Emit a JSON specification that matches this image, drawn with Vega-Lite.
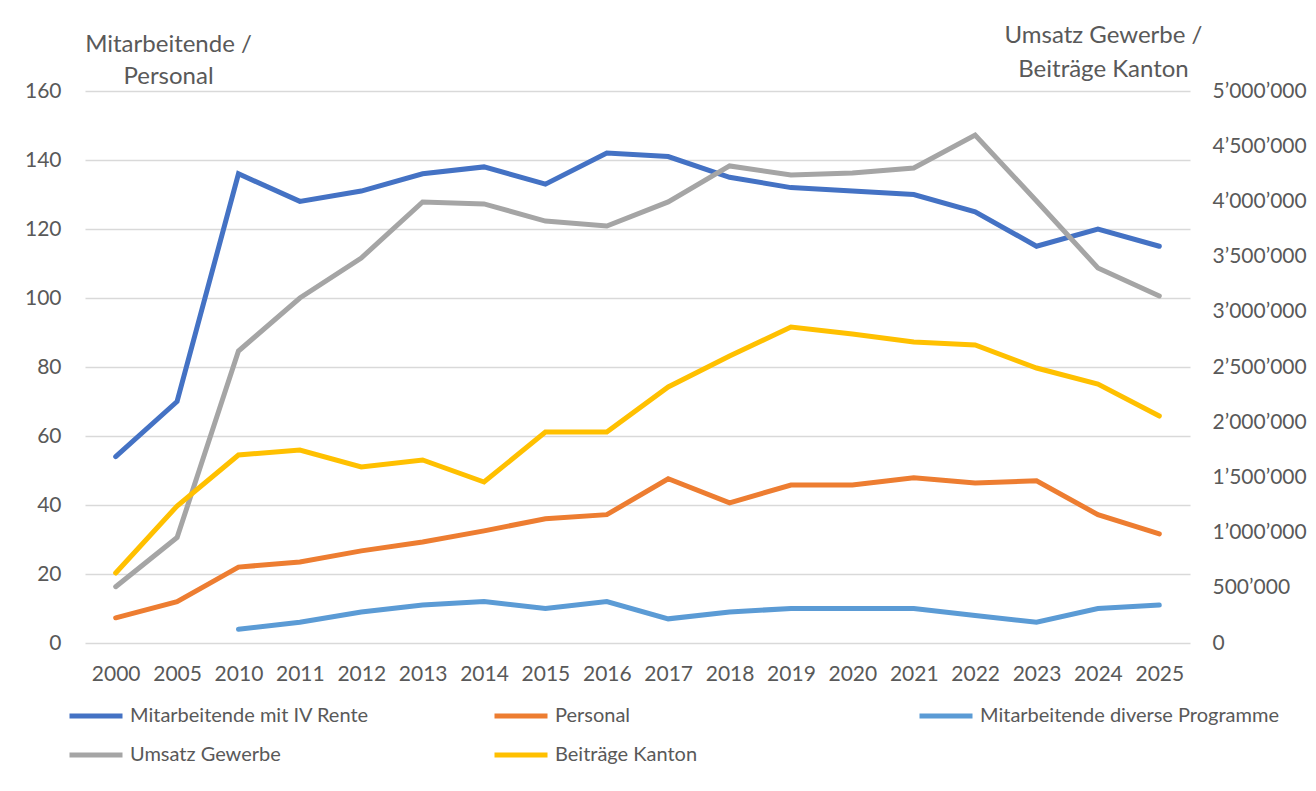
{
  "$schema": "https://vega.github.io/schema/vega-lite/v6.json",
  "width": 1105,
  "height": 552,
  "autosize": {"type": "none"},
  "padding": {"left": 85, "top": 91, "right": 126, "bottom": 148},
  "background": "white",
  "config": {
    "view": {"stroke": null},
    "font": "Lato",
    "axis": {"labelFont": "Lato", "labelFontSize": 21, "labelColor": "#595959", "titleFont": "Lato", "titleFontSize": 24, "titleColor": "#595959", "titleFontWeight": "normal", "ticks": false, "domain": false},
    "legend": {"labelFont": "Lato", "labelFontSize": 20, "labelColor": "#595959"}
  },
  "data": {
    "values": [
      {"year": "2000", "series": "Mitarbeitende mit IV Rente", "axis": "L", "value": 54},
      {"year": "2005", "series": "Mitarbeitende mit IV Rente", "axis": "L", "value": 70},
      {"year": "2010", "series": "Mitarbeitende mit IV Rente", "axis": "L", "value": 136},
      {"year": "2011", "series": "Mitarbeitende mit IV Rente", "axis": "L", "value": 128},
      {"year": "2012", "series": "Mitarbeitende mit IV Rente", "axis": "L", "value": 131},
      {"year": "2013", "series": "Mitarbeitende mit IV Rente", "axis": "L", "value": 136},
      {"year": "2014", "series": "Mitarbeitende mit IV Rente", "axis": "L", "value": 138},
      {"year": "2015", "series": "Mitarbeitende mit IV Rente", "axis": "L", "value": 133},
      {"year": "2016", "series": "Mitarbeitende mit IV Rente", "axis": "L", "value": 142},
      {"year": "2017", "series": "Mitarbeitende mit IV Rente", "axis": "L", "value": 141},
      {"year": "2018", "series": "Mitarbeitende mit IV Rente", "axis": "L", "value": 135},
      {"year": "2019", "series": "Mitarbeitende mit IV Rente", "axis": "L", "value": 132},
      {"year": "2020", "series": "Mitarbeitende mit IV Rente", "axis": "L", "value": 131},
      {"year": "2021", "series": "Mitarbeitende mit IV Rente", "axis": "L", "value": 130},
      {"year": "2022", "series": "Mitarbeitende mit IV Rente", "axis": "L", "value": 125},
      {"year": "2023", "series": "Mitarbeitende mit IV Rente", "axis": "L", "value": 115},
      {"year": "2024", "series": "Mitarbeitende mit IV Rente", "axis": "L", "value": 120},
      {"year": "2025", "series": "Mitarbeitende mit IV Rente", "axis": "L", "value": 115},
      {"year": "2000", "series": "Personal", "axis": "L", "value": 7.3},
      {"year": "2005", "series": "Personal", "axis": "L", "value": 12},
      {"year": "2010", "series": "Personal", "axis": "L", "value": 22},
      {"year": "2011", "series": "Personal", "axis": "L", "value": 23.5},
      {"year": "2012", "series": "Personal", "axis": "L", "value": 26.7},
      {"year": "2013", "series": "Personal", "axis": "L", "value": 29.3},
      {"year": "2014", "series": "Personal", "axis": "L", "value": 32.5},
      {"year": "2015", "series": "Personal", "axis": "L", "value": 36},
      {"year": "2016", "series": "Personal", "axis": "L", "value": 37.2},
      {"year": "2017", "series": "Personal", "axis": "L", "value": 47.6},
      {"year": "2018", "series": "Personal", "axis": "L", "value": 40.6},
      {"year": "2019", "series": "Personal", "axis": "L", "value": 45.8},
      {"year": "2020", "series": "Personal", "axis": "L", "value": 45.8},
      {"year": "2021", "series": "Personal", "axis": "L", "value": 47.9},
      {"year": "2022", "series": "Personal", "axis": "L", "value": 46.4},
      {"year": "2023", "series": "Personal", "axis": "L", "value": 47},
      {"year": "2024", "series": "Personal", "axis": "L", "value": 37.2},
      {"year": "2025", "series": "Personal", "axis": "L", "value": 31.6},
      {"year": "2010", "series": "Mitarbeitende diverse Programme", "axis": "L", "value": 4},
      {"year": "2011", "series": "Mitarbeitende diverse Programme", "axis": "L", "value": 6},
      {"year": "2012", "series": "Mitarbeitende diverse Programme", "axis": "L", "value": 9},
      {"year": "2013", "series": "Mitarbeitende diverse Programme", "axis": "L", "value": 11},
      {"year": "2014", "series": "Mitarbeitende diverse Programme", "axis": "L", "value": 12},
      {"year": "2015", "series": "Mitarbeitende diverse Programme", "axis": "L", "value": 10},
      {"year": "2016", "series": "Mitarbeitende diverse Programme", "axis": "L", "value": 12},
      {"year": "2017", "series": "Mitarbeitende diverse Programme", "axis": "L", "value": 7},
      {"year": "2018", "series": "Mitarbeitende diverse Programme", "axis": "L", "value": 9},
      {"year": "2019", "series": "Mitarbeitende diverse Programme", "axis": "L", "value": 10},
      {"year": "2020", "series": "Mitarbeitende diverse Programme", "axis": "L", "value": 10},
      {"year": "2021", "series": "Mitarbeitende diverse Programme", "axis": "L", "value": 10},
      {"year": "2022", "series": "Mitarbeitende diverse Programme", "axis": "L", "value": 8},
      {"year": "2023", "series": "Mitarbeitende diverse Programme", "axis": "L", "value": 6},
      {"year": "2024", "series": "Mitarbeitende diverse Programme", "axis": "L", "value": 10},
      {"year": "2025", "series": "Mitarbeitende diverse Programme", "axis": "L", "value": 11},
      {"year": "2000", "series": "Umsatz Gewerbe", "axis": "R", "value": 510000},
      {"year": "2005", "series": "Umsatz Gewerbe", "axis": "R", "value": 955000},
      {"year": "2010", "series": "Umsatz Gewerbe", "axis": "R", "value": 2645000},
      {"year": "2011", "series": "Umsatz Gewerbe", "axis": "R", "value": 3125000},
      {"year": "2012", "series": "Umsatz Gewerbe", "axis": "R", "value": 3487000},
      {"year": "2013", "series": "Umsatz Gewerbe", "axis": "R", "value": 3995000},
      {"year": "2014", "series": "Umsatz Gewerbe", "axis": "R", "value": 3977000},
      {"year": "2015", "series": "Umsatz Gewerbe", "axis": "R", "value": 3822000},
      {"year": "2016", "series": "Umsatz Gewerbe", "axis": "R", "value": 3777000},
      {"year": "2017", "series": "Umsatz Gewerbe", "axis": "R", "value": 3995000},
      {"year": "2018", "series": "Umsatz Gewerbe", "axis": "R", "value": 4321000},
      {"year": "2019", "series": "Umsatz Gewerbe", "axis": "R", "value": 4239000},
      {"year": "2020", "series": "Umsatz Gewerbe", "axis": "R", "value": 4257000},
      {"year": "2021", "series": "Umsatz Gewerbe", "axis": "R", "value": 4303000},
      {"year": "2022", "series": "Umsatz Gewerbe", "axis": "R", "value": 4601000},
      {"year": "2023", "series": "Umsatz Gewerbe", "axis": "R", "value": 4004000},
      {"year": "2024", "series": "Umsatz Gewerbe", "axis": "R", "value": 3397000},
      {"year": "2025", "series": "Umsatz Gewerbe", "axis": "R", "value": 3143000},
      {"year": "2000", "series": "Beiträge Kanton", "axis": "R", "value": 634000},
      {"year": "2005", "series": "Beiträge Kanton", "axis": "R", "value": 1241000},
      {"year": "2010", "series": "Beiträge Kanton", "axis": "R", "value": 1703000},
      {"year": "2011", "series": "Beiträge Kanton", "axis": "R", "value": 1748000},
      {"year": "2012", "series": "Beiträge Kanton", "axis": "R", "value": 1594000},
      {"year": "2013", "series": "Beiträge Kanton", "axis": "R", "value": 1658000},
      {"year": "2014", "series": "Beiträge Kanton", "axis": "R", "value": 1458000},
      {"year": "2015", "series": "Beiträge Kanton", "axis": "R", "value": 1911000},
      {"year": "2016", "series": "Beiträge Kanton", "axis": "R", "value": 1911000},
      {"year": "2017", "series": "Beiträge Kanton", "axis": "R", "value": 2319000},
      {"year": "2018", "series": "Beiträge Kanton", "axis": "R", "value": 2600000},
      {"year": "2019", "series": "Beiträge Kanton", "axis": "R", "value": 2862000},
      {"year": "2020", "series": "Beiträge Kanton", "axis": "R", "value": 2799000},
      {"year": "2021", "series": "Beiträge Kanton", "axis": "R", "value": 2726000},
      {"year": "2022", "series": "Beiträge Kanton", "axis": "R", "value": 2699000},
      {"year": "2023", "series": "Beiträge Kanton", "axis": "R", "value": 2491000},
      {"year": "2024", "series": "Beiträge Kanton", "axis": "R", "value": 2346000},
      {"year": "2025", "series": "Beiträge Kanton", "axis": "R", "value": 2056000}
    ]
  },
  "encoding": {
    "x": {
      "field": "year",
      "type": "ordinal",
      "title": null,
      "scale": {"padding": 0.5},
      "axis": {"labelAngle": 0, "labelPadding": 20, "grid": false}
    },
    "color": {
      "field": "series",
      "type": "nominal",
      "scale": {
        "domain": ["Mitarbeitende mit IV Rente", "Personal", "Mitarbeitende diverse Programme", "Umsatz Gewerbe", "Beiträge Kanton"],
        "range": ["#4472C4", "#ED7D31", "#5B9BD5", "#A5A5A5", "#FFC000"]
      },
      "legend": {
        "title": null,
        "orient": "none",
        "legendX": -18,
        "legendY": 596,
        "direction": "horizontal",
        "columns": 3,
        "gridAlign": "all",
        "columnPadding": 55,
        "rowPadding": -20,
        "symbolType": "stroke",
        "symbolSize": 2809,
        "symbolStrokeWidth": 5,
        "labelOffset": 5,
        "labelLimit": 500
      }
    }
  },
  "layer": [
    {
      "transform": [{"filter": "datum.axis === 'L'"}],
      "mark": {"type": "line", "strokeWidth": 5, "strokeCap": "round"},
      "encoding": {
        "y": {
          "field": "value",
          "type": "quantitative",
          "scale": {"domain": [0, 160], "nice": false},
          "axis": {
            "orient": "left",
            "values": [0, 20, 40, 60, 80, 100, 120, 140, 160],
            "grid": true,
            "gridColor": "#D9D9D9",
            "gridWidth": 1.5,
            "labelPadding": 24,
            "title": ["Mitarbeitende /", "Personal"],
            "titleAngle": 0,
            "titleAlign": "center",
            "titleBaseline": "alphabetic",
            "titleX": 83,
            "titleY": -40,
            "titleLineHeight": 32
          }
        }
      }
    },
    {
      "transform": [{"filter": "datum.axis === 'R'"}],
      "mark": {"type": "line", "strokeWidth": 5, "strokeCap": "round"},
      "encoding": {
        "y": {
          "field": "value",
          "type": "quantitative",
          "scale": {"domain": [0, 5000000], "nice": false},
          "axis": {
            "orient": "right",
            "values": [0, 500000, 1000000, 1500000, 2000000, 2500000, 3000000, 3500000, 4000000, 4500000, 5000000],
            "labelExpr": "replace(format(datum.value, ',d'), regexp(',', 'g'), '’')",
            "grid": false,
            "labelPadding": 22,
            "title": ["Umsatz Gewerbe /", "Beiträge Kanton"],
            "titleAngle": 0,
            "titleAlign": "center",
            "titleBaseline": "alphabetic",
            "titleX": -87,
            "titleY": -49,
            "titleLineHeight": 34
          }
        }
      }
    }
  ],
  "resolve": {"scale": {"y": "independent"}}
}
